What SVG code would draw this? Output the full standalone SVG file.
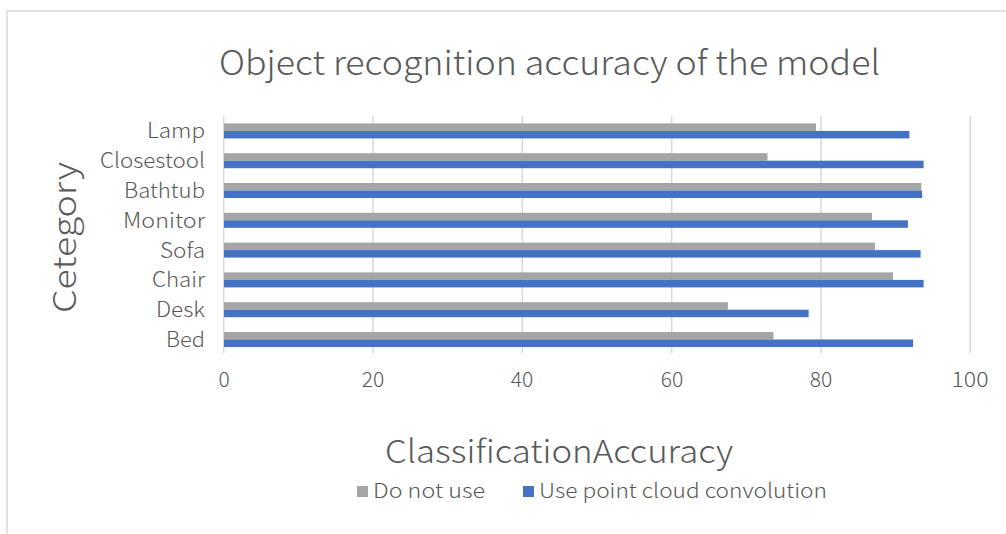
<svg xmlns="http://www.w3.org/2000/svg" width="1006" height="534" viewBox="0 0 1006 534">
<style>
.t{font-family:"Noto Sans CJK SC","Noto Sans",sans-serif;font-weight:300;fill:#595959}
.cat{font-size:21px;text-anchor:end}
.tick{font-size:21px;text-anchor:middle}
.grid{stroke:#D9D9D9;stroke-width:1.5;fill:none}
.g{fill:#A5A5A5}
.b{fill:#4472C4}
</style>
<rect x="0" y="0" width="1006" height="534" fill="#FFFFFF"/>
<rect x="7" y="11" width="1010" height="530" fill="#FFFFFF" stroke="#D9D9D9" stroke-width="1.5"/>
<text class="t" x="219" y="75" font-size="34" textLength="661" lengthAdjust="spacingAndGlyphs">Object recognition accuracy of the model</text>
<g id="gridlines">
<line class="grid" x1="223.7" y1="116" x2="223.7" y2="353"/>
<line class="grid" x1="373" y1="116" x2="373" y2="353"/>
<line class="grid" x1="522.3" y1="116" x2="522.3" y2="353"/>
<line class="grid" x1="671.7" y1="116" x2="671.7" y2="353"/>
<line class="grid" x1="821" y1="116" x2="821" y2="353"/>
<line class="grid" x1="970.3" y1="116" x2="970.3" y2="353"/>
</g>
<g id="ticks">
<text class="t tick" x="224" y="387">0</text>
<text class="t tick" x="373" y="387">20</text>
<text class="t tick" x="522" y="387">40</text>
<text class="t tick" x="672" y="387">60</text>
<text class="t tick" x="821" y="387">80</text>
<text class="t tick" x="970" y="387" textLength="37" lengthAdjust="spacingAndGlyphs">100</text>
</g>
<g id="lamp">
<text class="t cat" x="205" y="138" textLength="58" lengthAdjust="spacingAndGlyphs">Lamp</text>
<rect class="g" x="224" y="123.4" width="592" height="7.5"/>
<rect class="b" x="224" y="130.9" width="685.4" height="7.5"/>
</g>
<g id="closestool">
<text class="t cat" x="205" y="168" textLength="105" lengthAdjust="spacingAndGlyphs">Closestool</text>
<rect class="g" x="224" y="153.2" width="543.5" height="7.5"/>
<rect class="b" x="224" y="160.7" width="699.6" height="7.5"/>
</g>
<g id="bathtub">
<text class="t cat" x="205" y="198" textLength="81" lengthAdjust="spacingAndGlyphs">Bathtub</text>
<rect class="g" x="224" y="183" width="697.3" height="7.5"/>
<rect class="b" x="224" y="190.5" width="698.1" height="7.5"/>
</g>
<g id="monitor">
<text class="t cat" x="205" y="227.5" textLength="82" lengthAdjust="spacingAndGlyphs">Monitor</text>
<rect class="g" x="224" y="212.8" width="648" height="7.5"/>
<rect class="b" x="224" y="220.3" width="683.9" height="7.5"/>
</g>
<g id="sofa">
<text class="t cat" x="205" y="257.5" textLength="45" lengthAdjust="spacingAndGlyphs">Sofa</text>
<rect class="g" x="224" y="242.6" width="651" height="7.5"/>
<rect class="b" x="224" y="250.1" width="696.6" height="7.5"/>
</g>
<g id="chair">
<text class="t cat" x="205" y="287" textLength="53" lengthAdjust="spacingAndGlyphs">Chair</text>
<rect class="g" x="224" y="272.4" width="669" height="7.5"/>
<rect class="b" x="224" y="279.9" width="699.6" height="7.5"/>
</g>
<g id="desk">
<text class="t cat" x="205" y="317" textLength="49" lengthAdjust="spacingAndGlyphs">Desk</text>
<rect class="g" x="224" y="302.2" width="503.9" height="7.5"/>
<rect class="b" x="224" y="309.7" width="584.6" height="7.5"/>
</g>
<g id="bed">
<text class="t cat" x="205" y="347" textLength="39" lengthAdjust="spacingAndGlyphs">Bed</text>
<rect class="g" x="224" y="332" width="549.5" height="7.5"/>
<rect class="b" x="224" y="339.5" width="689.1" height="7.5"/>
</g>
<text class="t" x="385" y="463" font-size="32" textLength="348" lengthAdjust="spacingAndGlyphs">ClassificationAccuracy</text>
<text class="t" transform="translate(76,237.5) rotate(-90)" font-size="32" text-anchor="middle" textLength="151" lengthAdjust="spacingAndGlyphs">Cetegory</text>
<g id="legend">
<rect class="g" x="357" y="486" width="11" height="11"/>
<text class="t" x="373" y="498" font-size="20" textLength="112" lengthAdjust="spacingAndGlyphs">Do not use</text>
<rect class="b" x="523" y="486" width="11" height="11"/>
<text class="t" x="539" y="498" font-size="20" textLength="288" lengthAdjust="spacingAndGlyphs">Use point cloud convolution</text>
</g>
</svg>
